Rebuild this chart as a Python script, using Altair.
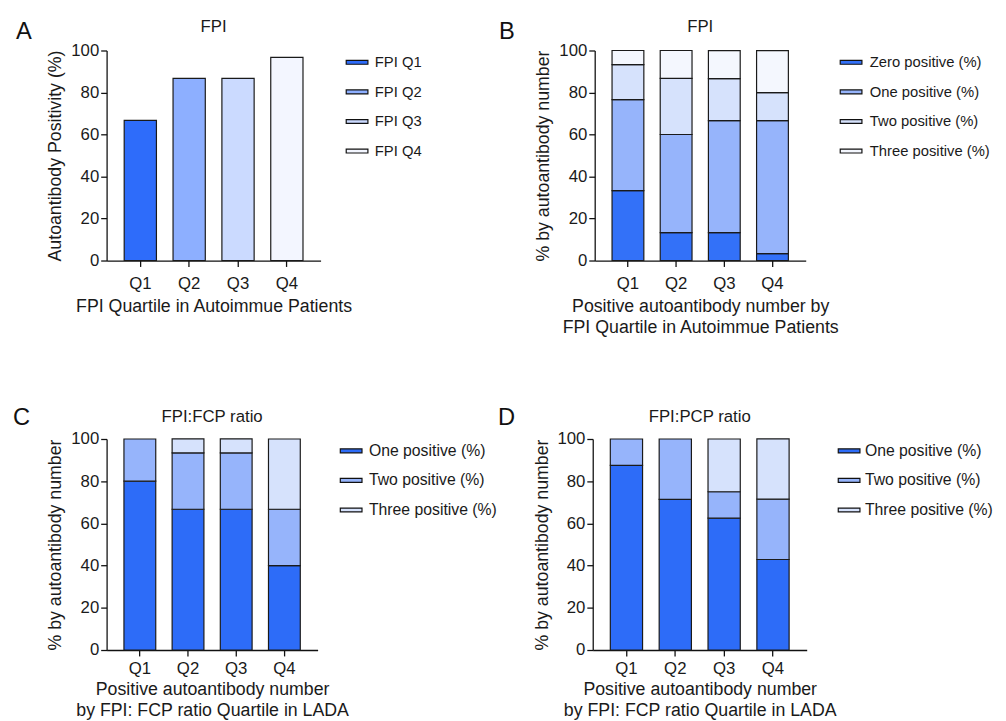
import altair as alt
import pandas as pd

FONT = "Liberation Sans"

quartiles = ["Q1", "Q2", "Q3", "Q4"]

# Panel A
a_series = ["FPI Q1", "FPI Q2", "FPI Q3", "FPI Q4"]
a_positivity = [66.7, 86.7, 86.7, 96.7]

# Panel B
b_groups = ["Zero positive (%)", "One positive (%)", "Two positive (%)", "Three positive (%)"]
b_zero = [33.3, 13.3, 13.3, 3.3]
b_one = [43.3, 46.7, 53.3, 63.3]
b_two = [16.7, 26.7, 20.0, 13.3]
b_three = [6.7, 13.3, 13.3, 20.0]

# Panels C and D
cd_groups = ["One positive (%)", "Two positive (%)", "Three positive (%)"]
c_one = [80.0, 66.7, 66.7, 40.0]
c_two = [20.0, 26.7, 26.7, 26.7]
c_three = [0.0, 6.7, 6.7, 33.3]
d_one = [87.5, 71.4, 62.5, 42.9]
d_two = [12.5, 28.6, 12.5, 28.6]
d_three = [0.0, 0.0, 25.0, 28.6]

colors_a = ["#2E6CFA", "#8DAFFF", "#CBDAFF", "#F3F6FF"]
colors_b = ["#3371F8", "#96B4FB", "#D6E2FC", "#F4F7FE"]
colors_cd = ["#2D6CF8", "#96B4FB", "#D6E2FC"]

YTICKS = [0, 20, 40, 60, 80, 100]


def stacked_frame(groups, series):
    rows = []
    for gi, (g, vals) in enumerate(zip(groups, series)):
        for q, v in zip(quartiles, vals):
            if v > 0:
                rows.append({"quartile": q, "group": g, "value": v, "order": gi})
    return pd.DataFrame(rows)


def xenc(title, lpad, tpad):
    return alt.X(
        "quartile:N",
        sort=quartiles,
        scale=alt.Scale(paddingInner=0.34, paddingOuter=0.36),
        axis=alt.Axis(labelAngle=0, title=title, labelPadding=lpad, titlePadding=tpad),
    )


def yenc(title):
    return alt.Y(
        "value:Q",
        stack="zero",
        scale=alt.Scale(domain=[0, 100], nice=False),
        axis=alt.Axis(values=YTICKS, title=title),
    )


def letter(ch, dx, dy):
    return alt.Chart(pd.DataFrame({"t": [ch]})).mark_text(
        align="left", baseline="alphabetic", fontSize=24, font=FONT, color="#111111"
    ).encode(text="t:N", x=alt.value(dx), y=alt.value(dy))


def ptitle(text, w, dy):
    return alt.Chart(pd.DataFrame({"t": [text]})).mark_text(
        align="center", baseline="alphabetic", fontSize=17, font=FONT, color="#1a1a1a"
    ).encode(text="t:N", x=alt.value(w / 2), y=alt.value(dy))


bar_style = dict(stroke="#1a1a1a", strokeWidth=1.2)

# ---- A ----
df_a = pd.DataFrame({"quartile": quartiles, "series": a_series, "value": a_positivity})
bars_a = alt.Chart(df_a).mark_bar(**bar_style).encode(
    x=xenc("FPI Quartile in Autoimmue Patients", 9, 7),
    y=yenc("Autoantibody Positivity (%)"),
    color=alt.Color("series:N", sort=a_series,
                    scale=alt.Scale(domain=a_series, range=colors_a),
                    legend=alt.Legend(title=None, offset=25, labelFontSize=15, labelOffset=6)),
)
chart_a = alt.layer(bars_a, letter("A", -92, -12), ptitle("FPI", 217, -19)).properties(width=217, height=213)

# ---- B ----
df_b = stacked_frame(b_groups, [b_zero, b_one, b_two, b_three])
bars_b = alt.Chart(df_b).mark_bar(**bar_style).encode(
    x=xenc(["Positive autoantibody number by", "FPI Quartile in Autoimmue Patients"], 9, 7),
    y=yenc("% by autoantibody number"),
    color=alt.Color("group:N", sort=b_groups,
                    scale=alt.Scale(domain=b_groups, range=colors_b),
                    legend=alt.Legend(title=None, offset=34, labelFontSize=15, labelOffset=7)),
    order=alt.Order("order:Q"),
)
chart_b = alt.layer(bars_b, letter("B", -97, -12), ptitle("FPI", 214, -19)).properties(width=214, height=213)

# ---- C ----
df_c = stacked_frame(cd_groups, [c_one, c_two, c_three])
bars_c = alt.Chart(df_c).mark_bar(**bar_style).encode(
    x=xenc(["Positive autoantibody number", "by FPI: FCP ratio Quartile in LADA"], 5, 4),
    y=yenc("% by autoantibody number"),
    color=alt.Color("group:N", sort=cd_groups,
                    scale=alt.Scale(domain=cd_groups, range=colors_cd),
                    legend=alt.Legend(title=None, offset=22, labelFontSize=16, labelOffset=6)),
    order=alt.Order("order:Q"),
)
chart_c = alt.layer(bars_c, letter("C", -95, -14), ptitle("FPI:FCP ratio", 214, -17)).properties(width=214, height=214)

# ---- D ----
df_d = stacked_frame(cd_groups, [d_one, d_two, d_three])
bars_d = alt.Chart(df_d).mark_bar(**bar_style).encode(
    x=xenc(["Positive autoantibody number", "by FPI: FCP ratio Quartile in LADA"], 5, 4),
    y=yenc("% by autoantibody number"),
    color=alt.Color("group:N", sort=cd_groups,
                    scale=alt.Scale(domain=cd_groups, range=colors_cd),
                    legend=alt.Legend(title=None, offset=31, labelFontSize=16, labelOffset=4)),
    order=alt.Order("order:Q"),
)
chart_d = alt.layer(bars_d, letter("D", -96, -14), ptitle("FPI:PCP ratio", 217, -17)).properties(width=217, height=214)

row1 = alt.hconcat(chart_a, chart_b, spacing=78).resolve_scale(color="independent").resolve_legend(color="independent")
row2 = alt.hconcat(chart_c, chart_d, spacing=1).resolve_scale(color="independent").resolve_legend(color="independent")

chart = alt.vconcat(row1, row2, spacing=71).resolve_scale(color="independent").resolve_legend(color="independent")

chart = chart.configure_view(stroke=None).configure_axis(
    labelFont=FONT, titleFont=FONT, labelFontSize=17, titleFontSize=18,
    titleFontWeight="normal", labelColor="#1a1a1a", titleColor="#1a1a1a",
    domainColor="#111111", tickColor="#111111", domainWidth=1.3, tickWidth=1.3,
    tickSize=6, grid=False,
).configure_axisY(labelPadding=2, titlePadding=6).configure_axisX(
    titleLineHeight=21
).configure_legend(
    symbolType="M-1,-0.18H1V0.18H-1Z", symbolSize=484, symbolStrokeColor="#111111",
    symbolStrokeWidth=1.2, labelFont=FONT, labelColor="#1a1a1a",
    rowPadding=10, padding=0, symbolOpacity=1,
).configure_concat(spacing=20)

chart.save("out.html", embed_options={"renderer": "svg", "actions": False})
